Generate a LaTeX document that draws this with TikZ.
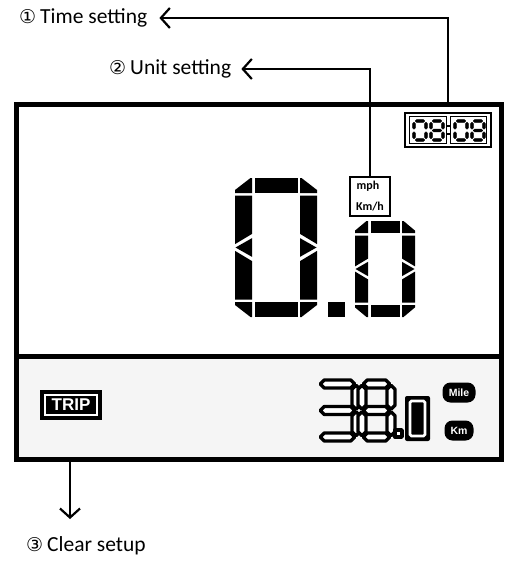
\documentclass[tikz,border=0pt]{standalone}
\usepackage{fontspec}
\setmainfont{Carlito}
\newfontfamily\dejavu{DejaVu Sans}
\newfontfamily\arialf{Liberation Sans}
\usetikzlibrary{arrows.meta}
\tikzset{
 conn/.style={line width=2pt, -{Straight Barb[length=9pt,width=20pt,line width=2.2pt]}},
 frameline/.style={line width=5pt},
 hollow/.style={fill=white, draw=black, line width=3.4pt, line join=round},
 clockseg/.style={fill=black, draw=black, line width=0.6pt, line join=round},
 lbl/.style={anchor=west, inner sep=0pt, font=\fontsize{21.5}{24}\selectfont},
 badge/.style={fill=black, text=white, rounded corners=8pt, font=\arialf\bfseries\fontsize{10.5}{10.5}\selectfont, inner sep=0pt, minimum height=20pt},
 unit/.style={inner sep=0pt, font=\bfseries\fontsize{12}{12}\selectfont}
}
\newcommand{\circnum}[1]{{\dejavu\fontsize{19}{19}\selectfont #1}\hspace{4pt}}
% horizontal hex segment: [style]{x1}{x2}{y}{t}
\newcommand{\hsgm}[5][hollow]{\filldraw[#1] ({#2},{#4}) -- ({#2+#5/2},{#4-#5/2}) -- ({#3-#5/2},{#4-#5/2}) -- ({#3},{#4}) -- ({#3-#5/2},{#4+#5/2}) -- ({#2+#5/2},{#4+#5/2}) -- cycle;}
% vertical hex segment: [style]{y1}{y2}{x}{t}
\newcommand{\vsgm}[5][hollow]{\filldraw[#1] ({#4},{#2}) -- ({#4-#5/2},{#2+#5/2}) -- ({#4-#5/2},{#3-#5/2}) -- ({#4},{#3}) -- ({#4+#5/2},{#3-#5/2}) -- ({#4+#5/2},{#2+#5/2}) -- cycle;}
% seven segment digit: [style]{L}{T}{R}{B}{t}{list of segments 1..7}
\newcommand{\mysegs}[7][hollow]{%
 \pgfmathsetmacro\sL{#2}\pgfmathsetmacro\sT{#3}\pgfmathsetmacro\sR{#4}\pgfmathsetmacro\sB{#5}\pgfmathsetmacro\sW{#6}%
 \pgfmathsetmacro\sM{(\sT+\sB)/2}\def\sg{1.3}%
 \foreach \s in {#7}{%
  \ifcase\s\or
   \hsgm[#1]{\sL+\sg}{\sR-\sg}{\sT}{\sW}\or
   \vsgm[#1]{\sT+\sg}{\sM-\sg}{\sR}{\sW}\or
   \vsgm[#1]{\sM+\sg}{\sB-\sg}{\sR}{\sW}\or
   \hsgm[#1]{\sL+\sg}{\sR-\sg}{\sB}{\sW}\or
   \vsgm[#1]{\sM+\sg}{\sB-\sg}{\sL}{\sW}\or
   \vsgm[#1]{\sT+\sg}{\sM-\sg}{\sL}{\sW}\or
   \hsgm[#1]{\sL+\sg}{\sR-\sg}{\sM}{\sW}\fi}}
% segmented zero: {L}{T}{R}{B}{C column width}{H bar height}
\newcommand{\segzero}[6]{%
 \pgfmathsetmacro\zL{#1}\pgfmathsetmacro\zT{#2}\pgfmathsetmacro\zR{#3}\pgfmathsetmacro\zB{#4}%
 \pgfmathsetmacro\zC{#5}\pgfmathsetmacro\zH{#6}\pgfmathsetmacro\zM{(\zT+\zB)/2}\def\zg{2.5}%
 \fill ({\zL},{\zT+0.8*\zH}) -- ({\zL+\zC-1.5},{\zT}) -- ({\zL+\zC},{\zT}) -- ({\zL+\zC},{\zT+\zH}) -- ({\zL},{\zT+\zH}) -- cycle;
 \fill ({\zR},{\zT+0.8*\zH}) -- ({\zR-\zC+1.5},{\zT}) -- ({\zR-\zC},{\zT}) -- ({\zR-\zC},{\zT+\zH}) -- ({\zR},{\zT+\zH}) -- cycle;
 \fill ({\zL},{\zB-0.8*\zH}) -- ({\zL+\zC-1.5},{\zB}) -- ({\zL+\zC},{\zB}) -- ({\zL+\zC},{\zB-\zH}) -- ({\zL},{\zB-\zH}) -- cycle;
 \fill ({\zR},{\zB-0.8*\zH}) -- ({\zR-\zC+1.5},{\zB}) -- ({\zR-\zC},{\zB}) -- ({\zR-\zC},{\zB-\zH}) -- ({\zR},{\zB-\zH}) -- cycle;
 \fill ({\zL+\zC+\zg},{\zT}) rectangle ({\zR-\zC-\zg},{\zT+\zH});
 \fill ({\zL+\zC+\zg},{\zB-\zH}) rectangle ({\zR-\zC-\zg},{\zB});
 \fill ({\zL},{\zT+\zH+\zg}) -- ({\zL+\zC},{\zT+\zH+\zg}) -- ({\zL+\zC},{\zM-0.8*\zC}) -- ({\zL},{\zM-0.2*\zC}) -- cycle;
 \fill ({\zL+0.5},{\zM}) -- ({\zL+\zC},{\zM-0.55*\zC}) -- ({\zL+\zC},{\zM+0.55*\zC}) -- cycle;
 \fill ({\zL},{\zM+0.2*\zC}) -- ({\zL+\zC},{\zM+0.8*\zC}) -- ({\zL+\zC},{\zB-\zH-\zg}) -- ({\zL},{\zB-\zH-\zg}) -- cycle;
 \fill ({\zR},{\zT+\zH+\zg}) -- ({\zR-\zC},{\zT+\zH+\zg}) -- ({\zR-\zC},{\zM-0.8*\zC}) -- ({\zR},{\zM-0.2*\zC}) -- cycle;
 \fill ({\zR-0.5},{\zM}) -- ({\zR-\zC},{\zM-0.55*\zC}) -- ({\zR-\zC},{\zM+0.55*\zC}) -- cycle;
 \fill ({\zR},{\zM+0.2*\zC}) -- ({\zR-\zC},{\zM+0.8*\zC}) -- ({\zR-\zC},{\zB-\zH-\zg}) -- ({\zR},{\zB-\zH-\zg}) -- cycle;
}
\begin{document}
\begin{tikzpicture}[x=1pt,y=-1pt]
\useasboundingbox[fill=white] (0,0) rectangle (517,564);
% panels
\fill[gray!8] (16,356) rectangle (501,459);
\draw[frameline] (16,105) rectangle (501,459);
\draw[frameline] (16,356) -- (501,356);
% labels
\node[lbl] (L1) at (19,18) {\circnum{①}Time setting};
\node[lbl] (L2) at (109,69) {\circnum{②}Unit setting};
\node[lbl] (L3) at (26,546) {\circnum{③}Clear setup};
% clock
\node[draw, line width=1.8pt, minimum width=86pt, minimum height=34pt, inner sep=0] (clk) at (448,130) {};
\draw[line width=1pt] (409.5,116.5) rectangle (446,143.5);
\draw[line width=1pt] (450,116.5) rectangle (486.5,143.5);
\mysegs[clockseg]{414}{121}{426}{140}{2.8}{1,2,3,4,5,6}
\mysegs[clockseg]{431}{121}{443}{140}{2.8}{1,2,3,4,5,6,7}
\fill (447,125) rectangle (449.5,127.5);
\fill (447,133) rectangle (449.5,135.5);
\mysegs[clockseg]{455}{121}{467}{140}{2.8}{1,2,3,4,5,6}
\mysegs[clockseg]{472}{121}{484}{140}{2.8}{1,2,3,4,5,6,7}
% unit box
\node[draw, line width=1.2pt, minimum width=40pt, minimum height=39pt, inner sep=0] (mph) at (370,196.5) {};
\node[unit] (mphtxt) at (368,186.5) {mph};
\node[unit] (kmhtxt) at (370,206.5) {Km/h};
% speed digits
\segzero{235}{178}{317}{317}{17}{15}
\fill (328,302) rectangle (345,317);
\segzero{355}{221}{415}{317}{13}{12}
% connectors
\coordinate (t1) at (448,103);
\coordinate (b3) at (70,459);
\coordinate (e3) at (70,519);
\draw[conn, shorten >=12pt] (t1) |- (L1.east);
\draw[conn, shorten >=10pt] (mph.north) |- (L2.east);
\draw[conn] (b3) -- (e3);
% trip
\fill (40,390) rectangle (102,420);
\node[draw=white, line width=1.4pt, minimum width=52pt, minimum height=20pt, inner sep=0, text=white, font=\arialf\bfseries\fontsize{17}{17}\selectfont] (trip) at (71,405) {TRIP};
% odometer 38.0
\mysegs{319}{384}{356}{437}{8}{1,2,3,4,7}
\mysegs{362}{384}{391}{437}{8}{1,2,3,4,5,6,7}
\filldraw[hollow] (395,430) rectangle (402,437);
\fill[rounded corners=2pt] (405,396) rectangle (430,441);
\draw[white, line width=2.6pt, rounded corners=1.5pt] (410,401) rectangle (425,436);
\node[badge, minimum width=33pt] (mile) at (459,392.5) {Mile};
\node[badge, minimum width=29pt] (km) at (459,430.5) {Km};
\end{tikzpicture}
\end{document}
